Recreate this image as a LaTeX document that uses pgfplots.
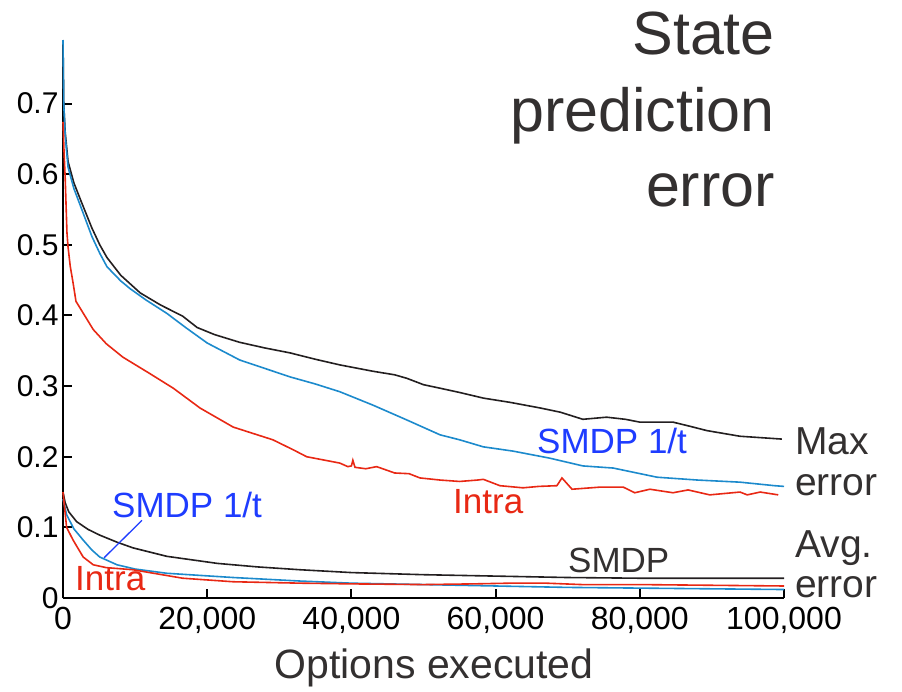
\documentclass[border=0pt]{standalone}
\usepackage{pgfplots}
\pgfplotsset{compat=1.18}
\usepackage{fontspec}
\setmainfont{Liberation Sans}
\definecolor{txtgray}{RGB}{51,48,48}
\definecolor{cblack}{RGB}{35,31,32}
\definecolor{cblue}{RGB}{28,138,204}
\definecolor{cred}{RGB}{232,40,20}
\definecolor{tblue}{RGB}{30,60,255}
\begin{document}
\begin{tikzpicture}
\begin{axis}[
  at={(0,0)}, anchor=south west,
  scale only axis, width=721pt, height=558pt,
  xmin=0, xmax=100000, ymin=0, ymax=0.79,
  axis lines*=left,
  axis line style={line width=2.5pt, black},
  scaled x ticks=false, scaled y ticks=false,
  xtick={0,20000,40000,60000,80000,100000},
  xticklabels={0,{20,000},{40,000},{60,000},{80,000},{100,000}},
  ytick={0,0.1,0.2,0.3,0.4,0.5,0.6,0.7},
  yticklabels={0,0.1,0.2,0.3,0.4,0.5,0.6,0.7},
  xticklabel style={font=\fontsize{32}{34}\selectfont, yshift=-6pt},
  yticklabel style={font=\fontsize{30}{32}\selectfont, xshift=-1pt},
  tick align=inside,
  major tick length=9pt,
  tick style={line width=2pt, black},
  clip=false,
  every axis plot/.append style={line width=1.6pt},
]
% Max error, SMDP
\addplot[cblack] coordinates {
(0,0.79) (100,0.70) (300,0.66) (700,0.618) (1500,0.588) (2500,0.562) (4000,0.524) (5100,0.500)
(6100,0.482) (8000,0.457) (10700,0.432) (13500,0.415) (16600,0.399) (18600,0.383) (21000,0.373)
(24500,0.362) (28000,0.354) (31500,0.347) (35000,0.338) (38400,0.330) (43000,0.321) (46000,0.316)
(47700,0.311) (50000,0.302) (52300,0.297) (55000,0.291) (58300,0.283) (62000,0.277) (66200,0.269)
(69000,0.263) (72100,0.253) (75400,0.256) (78000,0.253) (80000,0.249) (84600,0.249) (87000,0.243)
(89300,0.237) (93900,0.229) (99700,0.225)
};
% Max error, SMDP 1/t
\addplot[cblue] coordinates {
(0,0.79) (100,0.70) (300,0.655) (700,0.61) (1500,0.58) (2500,0.553) (4000,0.512) (5100,0.488)
(6100,0.469) (8000,0.449) (9300,0.438) (11500,0.422) (14400,0.403) (17000,0.383) (20000,0.361)
(24500,0.337) (28000,0.325) (31500,0.313) (35000,0.303) (38400,0.292) (43000,0.273) (47700,0.252)
(52300,0.231) (55000,0.224) (58300,0.214) (62400,0.208) (67500,0.198) (72100,0.187) (76300,0.184)
(82400,0.171) (88000,0.167) (93900,0.164) (98700,0.159) (100000,0.158)
};
% Max error, Intra
\addplot[cred] coordinates {
(0,0.674) (150,0.63) (300,0.596) (550,0.517) (700,0.497) (1000,0.47) (1400,0.446) (1800,0.42)
(2400,0.41) (4200,0.38) (6000,0.36) (8300,0.341) (12000,0.318) (15300,0.297) (19000,0.269)
(23600,0.242) (29100,0.224) (31900,0.21) (33800,0.2) (38400,0.191) (39500,0.186) (40000,0.187)
(40200,0.195) (40500,0.185) (42000,0.183) (43500,0.186) (46000,0.177) (48000,0.176) (49500,0.170)
(52300,0.167) (55000,0.165) (57500,0.167) (58300,0.168) (60600,0.159) (63800,0.156) (66000,0.158)
(68500,0.159) (69200,0.170) (70600,0.154) (74500,0.157) (77700,0.157) (79300,0.149) (81400,0.154)
(84600,0.149) (86700,0.153) (89700,0.146) (93900,0.150) (94900,0.146) (96700,0.150) (99200,0.146)
};
% Avg error, SMDP
\addplot[cblack] coordinates {
(0,0.150) (300,0.135) (800,0.122) (1900,0.108) (3500,0.097) (5100,0.089) (7500,0.079) (9700,0.071)
(14400,0.059) (21400,0.049) (27000,0.044) (32900,0.040) (40000,0.036) (50000,0.033) (60000,0.031)
(70000,0.029) (80000,0.028) (90000,0.028) (100000,0.028)
};
% Avg error, SMDP 1/t
\addplot[cblue] coordinates {
(0,0.14) (500,0.118) (1500,0.098) (2800,0.082) (4000,0.068) (5100,0.058) (7500,0.047) (10000,0.041)
(14400,0.035) (23600,0.029) (32900,0.024) (40000,0.021) (50000,0.019) (60000,0.017) (70000,0.015)
(80000,0.014) (90000,0.013) (100000,0.012)
};
% Avg error, Intra
\addplot[cred] coordinates {
(0,0.150) (500,0.100) (1400,0.082) (2800,0.058) (4200,0.047) (6000,0.043) (9700,0.040) (16600,0.028)
(23600,0.023) (32900,0.021) (40000,0.020) (50000,0.019) (57000,0.020) (62000,0.021) (67000,0.021)
(72000,0.019) (80000,0.019) (90000,0.018) (100000,0.017)
};
\draw[tblue, line width=1.3pt] (axis cs:10960,0.110) -- (axis cs:5700,0.057);
\end{axis}
% annotations (1pt = 1px, origin at axis corner)
\begin{scope}[every node/.style={inner sep=0pt}]
\node[anchor=base east, txtgray, font=\fontsize{61}{62}\selectfont] at (712pt,543pt) {State};
\node[anchor=base east, txtgray, font=\fontsize{61}{62}\selectfont] at (712pt,466pt) {prediction};
\node[anchor=base east, txtgray, font=\fontsize{61}{62}\selectfont] at (712pt,391pt) {error};
\node[anchor=base west, txtgray, font=\fontsize{39}{40}\selectfont] at (732pt,143pt) {Max};
\node[anchor=base west, txtgray, font=\fontsize{39}{40}\selectfont] at (732pt,103pt) {error};
\node[anchor=base west, txtgray, font=\fontsize{39}{40}\selectfont] at (732pt,41pt) {Avg.};
\node[anchor=base west, txtgray, font=\fontsize{39}{40}\selectfont] at (732pt,1pt) {error};
\node[anchor=base west, tblue, font=\fontsize{35}{36}\selectfont] at (474pt,145pt) {SMDP 1/t};
\node[anchor=base west, cred, font=\fontsize{35}{36}\selectfont] at (390pt,85pt) {Intra};
\node[anchor=base west, txtgray, font=\fontsize{35}{36}\selectfont] at (505pt,26pt) {SMDP};
\node[anchor=base west, tblue, font=\fontsize{35}{36}\selectfont] at (49pt,81pt) {SMDP 1/t};
\node[anchor=base west, cred, font=\fontsize{35}{36}\selectfont] at (12pt,8pt) {Intra};
\node[anchor=base, txtgray, font=\fontsize{41}{42}\selectfont] at (371pt,-80pt) {Options executed};
\end{scope}
\pgfresetboundingbox
\path[use as bounding box] (-63pt,-93pt) rectangle (839pt,598pt);
\end{tikzpicture}
\end{document}
